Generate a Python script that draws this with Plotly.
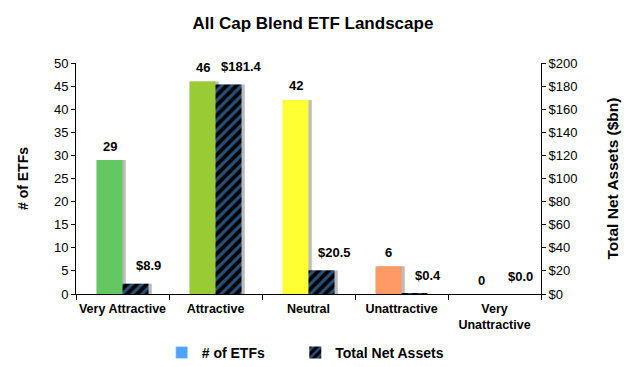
import plotly.graph_objects as go

categories = ["Very Attractive", "Attractive", "Neutral", "Unattractive", "Very<br>Unattractive"]
num_etfs = [29, 46, 42, 6, 0]
net_assets = [8.9, 181.4, 20.5, 0.4, 0.0]
bar_colors = ["#63C862", "#99CC33", "#FFFF33", "#FF9966", "#FF3333"]
etf_labels = [str(v) for v in num_etfs]
tna_labels = ["$%.1f" % v for v in net_assets]
left_ticks = list(range(0, 55, 5))
right_ticks = list(range(0, 220, 20))
right_ticktext = ["$%d" % v for v in right_ticks]

FONT = "Liberation Sans, Arial, sans-serif"
W = 0.28
SH = 0.035
shadow = "rgba(160,160,160,0.7)"
BLUE = "#4FA3FA"

fig = go.Figure()

# shadows
fig.add_trace(go.Bar(x=categories, y=num_etfs, width=W, offset=-W + SH,
                     marker=dict(color=shadow, line=dict(width=0)),
                     showlegend=False, hoverinfo="skip", yaxis="y"))
fig.add_trace(go.Bar(x=categories, y=net_assets, width=W, offset=SH,
                     marker=dict(color=shadow, line=dict(width=0)),
                     showlegend=False, hoverinfo="skip", yaxis="y2"))

# number of ETFs
fig.add_trace(go.Bar(x=categories, y=num_etfs, width=W, offset=-W,
                     marker=dict(color=bar_colors, line=dict(width=0)),
                     showlegend=False, yaxis="y"))
# total net assets (hatched)
fig.add_trace(go.Bar(x=categories, y=net_assets, width=W, offset=0,
                     marker=dict(color="#000000", line=dict(width=0),
                                 pattern=dict(shape="/", fgcolor=BLUE, bgcolor="#000000",
                                              size=7, solidity=0.45)),
                     name="Total Net Assets", legend="legend2", yaxis="y2"))
# legend proxy for # of ETFs
fig.add_trace(go.Bar(x=[categories[0]], y=[None], width=W, offset=-W,
                     marker=dict(color=BLUE), name="# of ETFs", legend="legend", yaxis="y"))

label_font = dict(family=FONT, size=13, color="#000000", weight="bold")
for c, v, t in zip(categories, num_etfs, etf_labels):
    fig.add_annotation(x=c, y=v, xref="x", yref="y", text=t, showarrow=False,
                       xshift=-13, yshift=14, yanchor="middle", font=label_font)
for c, v, t in zip(categories, net_assets, tna_labels):
    fig.add_annotation(x=c, y=v, xref="x", yref="y2", text=t, showarrow=False,
                       xshift=26, yshift=18, yanchor="middle", font=label_font)

legend_common = dict(orientation="h", xanchor="left", xref="container",
                     y=0.06, yanchor="middle", yref="container", itemwidth=30,
                     bgcolor="rgba(0,0,0,0)",
                     font=dict(size=14, family=FONT, weight="bold"))

fig.update_layout(
    width=630, height=367,
    margin=dict(l=68, r=97, t=55, b=81, autoexpand=False),
    paper_bgcolor="white", plot_bgcolor="white",
    font=dict(family=FONT, size=12, color="#000000"),
    title=dict(text="<b>All Cap Blend ETF Landscape</b>", x=0.484, xanchor="center",
               y=0.958, yanchor="middle", font=dict(size=17, family=FONT)),
    barmode="overlay",
    showlegend=True,
    legend=dict(x=0.244, **legend_common),
    legend2=dict(x=0.456, **legend_common),
    xaxis=dict(showline=True, linecolor="#000000", linewidth=1, automargin=False,
               ticks="outside", tickson="boundaries", ticklen=5, tickcolor="#000000",
               tickangle=0, ticklabelstandoff=3,
               tickfont=dict(size=12.5, weight="bold"), showgrid=False, range=[-0.5, 4.5]),
    yaxis=dict(range=[0, 50], tickvals=left_ticks, showline=True, linecolor="#000000",
               ticks="outside", ticklen=4, tickcolor="#000000", showgrid=False, zeroline=False,
               automargin=False,
               title=dict(text="<b># of ETFs</b>", font=dict(size=14), standoff=22),
               tickfont=dict(size=13)),
    yaxis2=dict(range=[0, 200], tickvals=right_ticks, ticktext=right_ticktext,
                overlaying="y", side="right", showline=True, linecolor="#000000",
                ticks="outside", ticklen=4, tickcolor="#000000", showgrid=False, zeroline=False,
                automargin=False,
                title=dict(text="<b>Total Net Assets ($bn)</b>", font=dict(size=15.5), standoff=30),
                tickfont=dict(size=13)),
)

fig.write_html("out.html")
